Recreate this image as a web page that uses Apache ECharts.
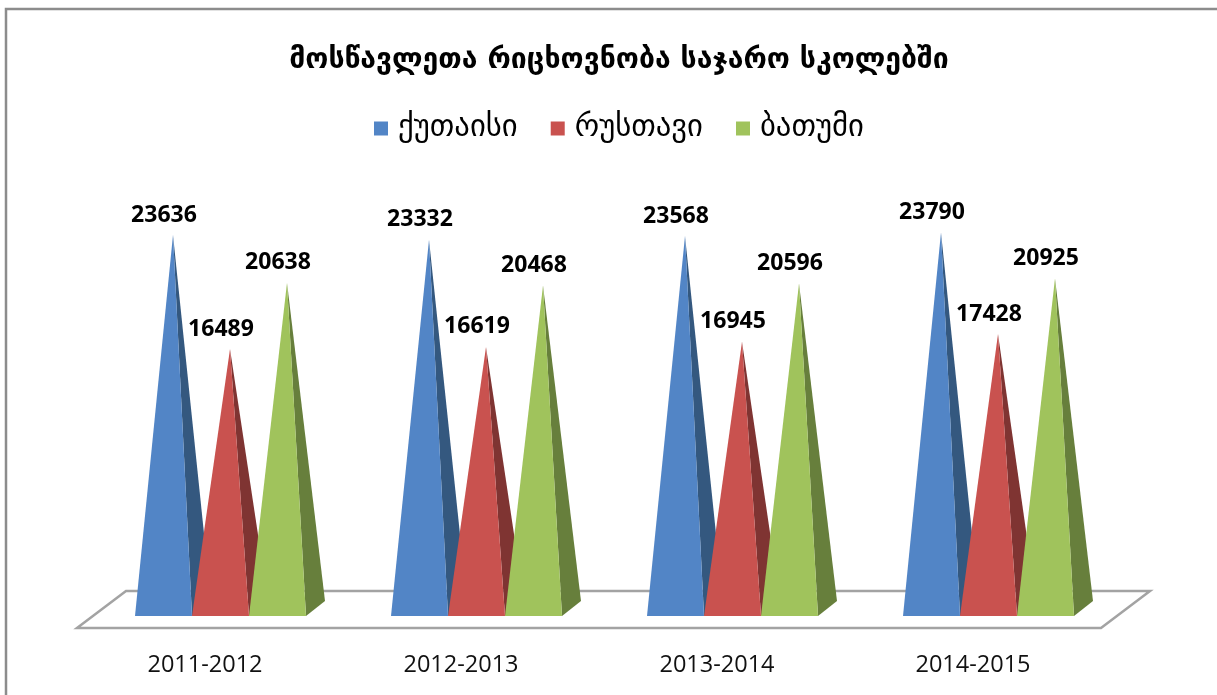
<!DOCTYPE html>
<html><head><meta charset="utf-8">
<style>html,body{margin:0;padding:0;background:#fff}#c{width:1217px;height:695px}</style>
<script src="https://cdn.jsdelivr.net/npm/echarts@6/dist/echarts.min.js"></script>
</head><body><div id="c"></div>
<script>
const years = ['2011-2012','2012-2013','2013-2014','2014-2015'];
const kutaisi = [23636,23332,23568,23790];
const rustavi = [16489,16619,16945,17428];
const batumi  = [20638,20468,20596,20925];
const names = ['ქუთაისი','რუსთავი','ბათუმი'];
const titleText = 'მოსწავლეთა რიცხოვნობა საჯარო სკოლებში';
const front = ['#5285C6','#C9524F','#A0C35C'];
const side  = ['#34587F','#7F3432','#677F3C'];

const BW = 57, DX = 19, DY = 15, FRONT_DROP = 4;
function pyramid(idx){
  return function(params, api){
    const cat = api.value(0), val = api.value(1);
    const top = api.coord([cat, val]);
    const zero = api.coord([cat, 0]);
    const xl = zero[0] - 70 + idx*BW;
    const xr = xl + BW;
    const yb = zero[1] + FRONT_DROP;
    const ax = xl + (BW + DX)/2;
    return {type:'group', children:[
      {type:'polygon', shape:{points:[[xr,yb],[xr+DX,yb-DY],[ax,top[1]]]}, style:{fill:side[idx]}},
      {type:'polygon', shape:{points:[[xl,yb],[xr,yb],[ax,top[1]]]}, style:{fill:front[idx]}},
      {type:'text', x:ax-9, y:top[1]-20, z2:100, style:{text:String(val), align:'center', verticalAlign:'middle',
        font:'bold 23px "Open Sans"', fill:'#000'}}
    ]};
  };
}
function mk(i,arr){
  return {type:'custom', name:names[i], coordinateSystem:'cartesian2d', itemStyle:{color:front[i]},
    renderItem:pyramid(i), encode:{x:0,y:1}, clip:false,
    data:arr.map((v,k)=>[k,v])};
}
const chart = echarts.init(document.getElementById('c'),null,{renderer:'canvas'});
chart.setOption({
  animation:false,
  backgroundColor:'#fff',
  title:{text:titleText,left:614,top:42,textAlign:'center',
    textStyle:{fontFamily:'DejaVu Sans',fontWeight:'bold',fontSize:28.4,color:'#000'}},
  legend:{left:369,top:108,itemWidth:14,itemHeight:14,itemGap:33,icon:'rect',
    data:names,textStyle:{fontFamily:'DejaVu Sans',fontSize:30.7,color:'#000',padding:[0,0,0,5]}},
  grid:{left:77,width:1024,top:213.25,height:398.75},
  xAxis:{type:'category',data:years,axisLine:{show:false},axisTick:{show:false},
    axisLabel:{margin:41,fontFamily:'Open Sans',fontSize:23.5,color:'#111'}},
  yAxis:{type:'value',min:0,max:25000,show:false,splitLine:{show:false}},
  graphic:[
    {type:'polyline',silent:true,z:-1,shape:{points:[[1217,9],[6,9],[6,695]]},style:{stroke:'#8c8c8c',lineWidth:2.5,fill:null}},
    {type:'polygon',silent:true,z:-1,shape:{points:[[77,628],[1101,628],[1150,591],[126,591]]},style:{stroke:'#a3a3a3',lineWidth:2.5,fill:'#fff'}}
  ],
  series:[mk(0,kutaisi),mk(1,rustavi),mk(2,batumi)]
});
</script></body></html>
